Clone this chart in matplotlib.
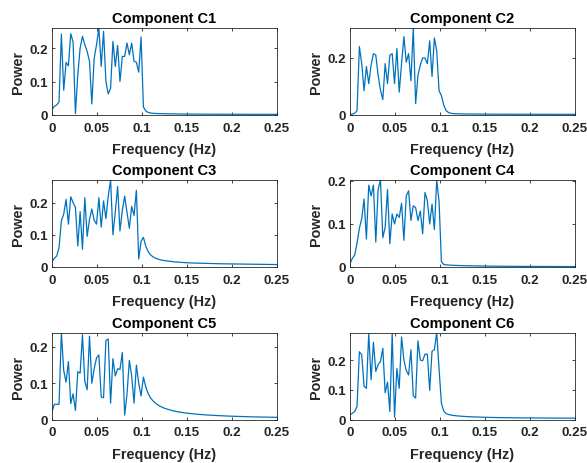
import numpy as np
import matplotlib
matplotlib.use("Agg")
import matplotlib.pyplot as plt

plt.rcParams['font.family'] = ['Liberation Sans', 'DejaVu Sans']

# frequency grid (TR = 2 s, 192 samples -> step 1/384 Hz, 0..0.25 Hz)
n_freq = 97
freq = np.arange(n_freq) / 384.0

titles = ["Component C1", "Component C2", "Component C3",
          "Component C4", "Component C5", "Component C6"]

power_c1 = [
    0.016, 0.026, 0.030, 0.039, 0.242, 0.074, 0.157, 0.147, 0.243, 0.218,
    0.004, 0.120, 0.200, 0.235, 0.210, 0.190, 0.160, 0.033, 0.170, 0.210,
    0.260, 0.145, 0.250, 0.100, 0.063, 0.080, 0.220, 0.145, 0.208, 0.100,
    0.175, 0.175, 0.215, 0.180, 0.215, 0.160, 0.158, 0.128, 0.233, 0.024,
    0.012, 0.008, 0.006, 0.005, 0.0047, 0.0044, 0.0042, 0.0040, 0.0038, 0.0036,
    0.0035, 0.0034, 0.0033, 0.0032, 0.0031, 0.0030, 0.0029, 0.0028, 0.0028, 0.0027,
    0.0027, 0.0026, 0.0026, 0.0025, 0.0025, 0.0025, 0.0024, 0.0024, 0.0024, 0.0023,
    0.0023, 0.0023, 0.0023, 0.0022, 0.0022, 0.0022, 0.0022, 0.0022, 0.0021, 0.0021,
    0.0021, 0.0021, 0.0021, 0.0021, 0.0020, 0.0020, 0.0020, 0.0020, 0.0020, 0.0020,
    0.0020, 0.0020, 0.0020, 0.0020, 0.0020, 0.0020, 0.0020]

power_c2 = [
    0.002, 0.003, 0.006, 0.015, 0.240, 0.180, 0.085, 0.170, 0.110, 0.176,
    0.215, 0.210, 0.140, 0.087, 0.054, 0.180, 0.110, 0.210, 0.215, 0.110,
    0.233, 0.080, 0.180, 0.275, 0.185, 0.215, 0.120, 0.305, 0.040, 0.140,
    0.175, 0.200, 0.200, 0.180, 0.260, 0.135, 0.270, 0.225, 0.085, 0.068,
    0.035, 0.015, 0.009, 0.006, 0.005, 0.0045, 0.0042, 0.0040, 0.0038, 0.0037,
    0.0036, 0.0035, 0.0034, 0.0033, 0.0032, 0.0032, 0.0031, 0.0031, 0.0030, 0.0030,
    0.0029, 0.0029, 0.0029, 0.0028, 0.0028, 0.0028, 0.0027, 0.0027, 0.0027, 0.0027,
    0.0026, 0.0026, 0.0026, 0.0026, 0.0026, 0.0025, 0.0025, 0.0025, 0.0025, 0.0025,
    0.0025, 0.0024, 0.0024, 0.0024, 0.0024, 0.0024, 0.0024, 0.0024, 0.0023, 0.0023,
    0.0023, 0.0023, 0.0023, 0.0023, 0.0023, 0.0023, 0.0023]

power_c3 = [
    0.017, 0.027, 0.034, 0.060, 0.143, 0.164, 0.210, 0.133, 0.218, 0.200,
    0.185, 0.065, 0.172, 0.055, 0.215, 0.095, 0.148, 0.180, 0.145, 0.133,
    0.215, 0.124, 0.205, 0.150, 0.220, 0.270, 0.100, 0.170, 0.250, 0.112,
    0.175, 0.220, 0.170, 0.120, 0.188, 0.160, 0.238, 0.025, 0.080, 0.092,
    0.065, 0.048, 0.038, 0.032, 0.028, 0.025, 0.023, 0.021, 0.020, 0.019,
    0.018, 0.017, 0.016, 0.0155, 0.015, 0.0145, 0.014, 0.0135, 0.013, 0.0128,
    0.0125, 0.0122, 0.0120, 0.0118, 0.0116, 0.0114, 0.0112, 0.0110, 0.0108, 0.0106,
    0.0104, 0.0102, 0.0100, 0.0099, 0.0098, 0.0097, 0.0096, 0.0095, 0.0094, 0.0093,
    0.0092, 0.0091, 0.0090, 0.0089, 0.0088, 0.0087, 0.0086, 0.0085, 0.0084, 0.0083,
    0.0082, 0.0081, 0.0080, 0.0079, 0.0078, 0.0077, 0.0076]

power_c4 = [
    0.008, 0.020, 0.028, 0.055, 0.090, 0.112, 0.158, 0.065, 0.190, 0.165,
    0.190, 0.058, 0.180, 0.202, 0.068, 0.092, 0.180, 0.054, 0.123, 0.100,
    0.123, 0.115, 0.148, 0.062, 0.165, 0.177, 0.108, 0.142, 0.138, 0.108,
    0.130, 0.077, 0.173, 0.154, 0.100, 0.146, 0.087, 0.202, 0.152, 0.012,
    0.006, 0.005, 0.0045, 0.0042, 0.0040, 0.0038, 0.0036, 0.0034, 0.0032, 0.0030,
    0.0029, 0.0028, 0.0027, 0.0026, 0.0025, 0.0024, 0.0023, 0.0022, 0.0021, 0.0020,
    0.0020, 0.0019, 0.0019, 0.0018, 0.0018, 0.0017, 0.0017, 0.0016, 0.0016, 0.0016,
    0.0015, 0.0015, 0.0015, 0.0014, 0.0014, 0.0014, 0.0014, 0.0013, 0.0013, 0.0013,
    0.0013, 0.0013, 0.0012, 0.0012, 0.0012, 0.0012, 0.0012, 0.0012, 0.0011, 0.0011,
    0.0011, 0.0011, 0.0011, 0.0011, 0.0011, 0.0010, 0.0010]

power_c5 = [
    0.021, 0.042, 0.042, 0.042, 0.240, 0.135, 0.103, 0.160, 0.044, 0.071,
    0.025, 0.132, 0.128, 0.234, 0.105, 0.082, 0.230, 0.100, 0.140, 0.170,
    0.178, 0.062, 0.060, 0.218, 0.222, 0.045, 0.168, 0.120, 0.140, 0.138,
    0.185, 0.012, 0.070, 0.163, 0.120, 0.045, 0.150, 0.100, 0.065, 0.117,
    0.090, 0.072, 0.060, 0.052, 0.046, 0.041, 0.037, 0.034, 0.031, 0.029,
    0.027, 0.025, 0.0235, 0.022, 0.021, 0.020, 0.019, 0.018, 0.0172, 0.0165,
    0.0158, 0.0152, 0.0146, 0.0140, 0.0135, 0.0130, 0.0126, 0.0122, 0.0118, 0.0114,
    0.0110, 0.0107, 0.0104, 0.0101, 0.0098, 0.0095, 0.0092, 0.0090, 0.0088, 0.0086,
    0.0084, 0.0082, 0.0080, 0.0078, 0.0076, 0.0074, 0.0072, 0.0071, 0.0070, 0.0068,
    0.0067, 0.0066, 0.0064, 0.0063, 0.0062, 0.0061, 0.0060]

power_c6 = [
    0.016, 0.021, 0.027, 0.044, 0.228, 0.218, 0.112, 0.105, 0.290, 0.134,
    0.260, 0.162, 0.185, 0.195, 0.240, 0.090, 0.126, 0.027, 0.290, 0.008,
    0.172, 0.105, 0.278, 0.200, 0.165, 0.150, 0.235, 0.080, 0.072, 0.265,
    0.200, 0.198, 0.220, 0.220, 0.098, 0.230, 0.235, 0.293, 0.170, 0.055,
    0.028, 0.020, 0.017, 0.015, 0.0138, 0.0128, 0.0120, 0.0113, 0.0107, 0.0102,
    0.0098, 0.0094, 0.0090, 0.0087, 0.0084, 0.0081, 0.0078, 0.0076, 0.0074, 0.0072,
    0.0070, 0.0068, 0.0067, 0.0065, 0.0064, 0.0063, 0.0062, 0.0061, 0.0060, 0.0059,
    0.0058, 0.0057, 0.0056, 0.0055, 0.0054, 0.0054, 0.0053, 0.0053, 0.0052, 0.0052,
    0.0051, 0.0051, 0.0050, 0.0050, 0.0049, 0.0049, 0.0048, 0.0048, 0.0047, 0.0047,
    0.0046, 0.0046, 0.0045, 0.0045, 0.0044, 0.0044, 0.0043]

powers = [power_c1, power_c2, power_c3, power_c4, power_c5, power_c6]

x_ticks = [0, 0.05, 0.1, 0.15, 0.2, 0.25]
x_tick_labels = ["0", "0.05", "0.1", "0.15", "0.2", "0.25"]
y_ticks = [[0, 0.1, 0.2], [0, 0.2], [0, 0.1, 0.2],
           [0, 0.1, 0.2], [0, 0.1, 0.2], [0, 0.1, 0.2]]
y_tick_labels = [["0", "0.1", "0.2"], ["0", "0.2"], ["0", "0.1", "0.2"],
                 ["0", "0.1", "0.2"], ["0", "0.1", "0.2"], ["0", "0.1", "0.2"]]

W, H = 587, 464
fig = plt.figure(figsize=(W / 100, H / 100), dpi=100)

lefts = [52, 350]
tops = [29, 181, 333.5]
aw, ah = 225, 87

line_color = "#0072BD"
axis_color = "#262626"

for i, p in enumerate(powers):
    r, c = divmod(i, 2)
    ax = fig.add_axes([lefts[c] / W, (H - tops[r] - ah) / H, aw / W, ah / H])
    ax.plot(freq, p, color=line_color, lw=0.9)
    ax.set_xlim(0, 0.25)
    ax.set_ylim(0, max(p))
    ax.set_xticks(x_ticks)
    ax.set_xticklabels(x_tick_labels)
    ax.set_yticks(y_ticks[i])
    ax.set_yticklabels(y_tick_labels[i])
    ax.tick_params(direction="in", top=True, right=True, length=2.5,
                   width=0.6, colors=axis_color, labelsize=9.6)
    ax.tick_params(axis="x", pad=5)
    ax.tick_params(axis="y", pad=3)
    for lbl in ax.get_xticklabels() + ax.get_yticklabels():
        lbl.set_fontweight("bold")
    for s in ax.spines.values():
        s.set_color(axis_color)
        s.set_linewidth(0.6)
    ax.set_title(titles[i], fontsize=10.5, fontweight="bold", color="black", pad=4)
    ax.set_xlabel("Frequency (Hz)", fontsize=10.4, fontweight="bold",
                  color=axis_color, labelpad=6)
    ax.set_ylabel("Power", fontsize=10.4, fontweight="bold",
                  color=axis_color, labelpad=3)

fig.savefig("out.png", dpi=100)
